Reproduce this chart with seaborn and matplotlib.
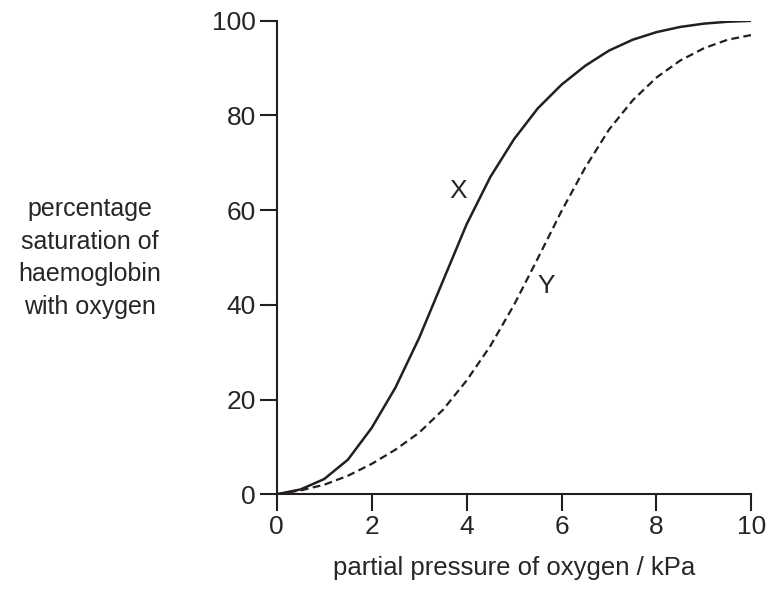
import matplotlib
matplotlib.use("Agg")
import matplotlib.pyplot as plt
import seaborn as sns
import pandas as pd

pressure = [0, .5, 1, 1.5, 2, 2.5, 3, 3.5, 4, 4.5, 5, 5.5, 6, 6.5, 7, 7.5, 8, 8.5, 9, 9.5, 10]
curve_x = [0, 1, 3.2, 7.3, 14, 22.5, 33, 45, 57, 67, 75, 81.5, 86.5, 90.5, 93.7, 96, 97.6, 98.7, 99.4, 99.8, 100]
curve_y = [0, 0.8, 2, 3.9, 6.4, 9.4, 13, 17.8, 24, 31.3, 40, 49.8, 59.8, 69, 77, 83.2, 88, 91.6, 94.2, 96, 97]
x_ticks = [0, 2, 4, 6, 8, 10]
y_ticks = [0, 20, 40, 60, 80, 100]

sns.set_style("ticks")
plt.rcParams['font.family'] = ['Liberation Sans', 'DejaVu Sans']

fig = plt.figure(figsize=(7.73, 5.94), dpi=100)
ax = fig.add_axes([0.358, 0.168, 0.614, 0.797])
df = pd.DataFrame({"p": pressure, "X": curve_x, "Y": curve_y})
sns.lineplot(data=df, x="p", y="X", ax=ax, color="#231f20", lw=1.8)
sns.lineplot(data=df, x="p", y="Y", ax=ax, color="#231f20", lw=1.6, linestyle=(0, (3.5, 2)))
ax.set_xlim(0, 10)
ax.set_ylim(0, 100)
ax.set_xticks(x_ticks)
ax.set_yticks(y_ticks)
ax.tick_params(labelsize=19, length=12, width=1.5, color="#231f20", direction="out", pad=3)
for s in ["top", "right"]:
    ax.spines[s].set_visible(False)
for s in ["left", "bottom"]:
    ax.spines[s].set_linewidth(1.5)
    ax.spines[s].set_color("#231f20")
ax.set_xlabel("partial pressure of oxygen / kPa", fontsize=18.5, labelpad=12)
ax.set_ylabel("")
fig.text(0.116, 0.566, "percentage\nsaturation of\nhaemoglobin\nwith oxygen", fontsize=18,
         ha="center", va="center", linespacing=1.45)
ax.text(4.0, 64, "X", fontsize=19, ha="right", va="center")
ax.text(5.5, 44, "Y", fontsize=19, ha="left", va="center")
fig.savefig("out.png", dpi=100)
